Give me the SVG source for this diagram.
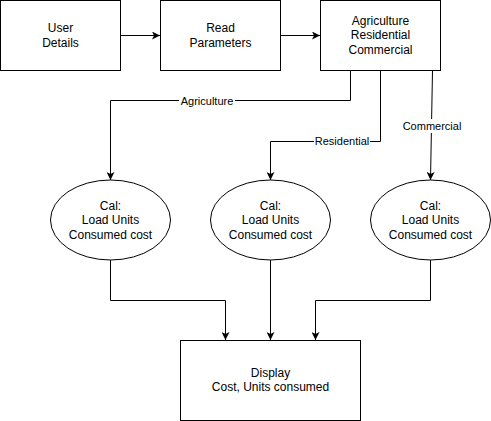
<svg xmlns="http://www.w3.org/2000/svg" width="491" height="421" viewBox="0 0 491 421">
<style>
.n{fill:#fff;stroke:#000;stroke-width:1}
.t{font-family:"Liberation Sans",Arial,sans-serif;font-size:12px;fill:#000;text-anchor:middle}
.l{font-family:"Liberation Sans",Arial,sans-serif;font-size:11px;fill:#000;text-anchor:middle}
.e{fill:none;stroke:#000;stroke-width:1;marker-end:url(#a)}
.lb{fill:#fff}
</style>
<defs>
<marker id="a" viewBox="0 0 10 10" refX="10" refY="5" markerWidth="8" markerHeight="8" markerUnits="userSpaceOnUse" orient="auto">
<path d="M0,0 L10,5 L0,10 L2.5,5 Z" fill="#000"/>
</marker>
</defs>
<rect width="491" height="421" fill="#fff"/>
<g id="connectors">
<path class="e" d="M120.5,35.5 H160"/>
<path class="e" d="M280.5,35.5 H320"/>
<path class="e" d="M350.5,70.5 V100.5 H110.5 V180"/>
<path class="e" d="M380.5,70.5 V141.5 H270.5 V180"/>
<path class="e" d="M432.5,70.5 L430.5,180"/>
<path class="e" d="M110.5,260 V300.5 H225.5 V340"/>
<path class="e" d="M270.5,260 V340"/>
<path class="e" d="M430.5,260 V300.5 H315.5 V340"/>
<rect class="lb" x="179" y="93" width="56" height="14"/>
<text class="l" x="207" y="104.5">Agriculture</text>
<rect class="lb" x="314" y="134" width="56" height="14"/>
<text class="l" x="342" y="145">Residential</text>
<rect class="lb" x="402" y="119" width="60" height="14"/>
<text class="l" x="432" y="130">Commercial</text>
</g>
<g id="user">
<rect class="n" x="0.5" y="0.5" width="120" height="70"/>
<text class="t" x="60.5" y="32">User</text>
<text class="t" x="60.5" y="47">Details</text>
</g>
<g id="read">
<rect class="n" x="160.5" y="0.5" width="120" height="70"/>
<text class="t" x="220.5" y="32">Read</text>
<text class="t" x="220.5" y="47">Parameters</text>
</g>
<g id="types">
<rect class="n" x="320.5" y="0.5" width="120" height="70"/>
<text class="t" x="380.5" y="25">Agriculture</text>
<text class="t" x="380.5" y="39">Residential</text>
<text class="t" x="380.5" y="54">Commercial</text>
</g>
<g id="cal1">
<ellipse class="n" cx="110.5" cy="220" rx="60" ry="40"/>
<text class="t" x="110.5" y="210">Cal:</text>
<text class="t" x="110.5" y="224">Load Units</text>
<text class="t" x="110.5" y="239">Consumed cost</text>
</g>
<g id="cal2">
<ellipse class="n" cx="270.5" cy="220" rx="60" ry="40"/>
<text class="t" x="270.5" y="210">Cal:</text>
<text class="t" x="270.5" y="224">Load Units</text>
<text class="t" x="270.5" y="239">Consumed cost</text>
</g>
<g id="cal3">
<ellipse class="n" cx="430.5" cy="220" rx="60" ry="40"/>
<text class="t" x="430.5" y="210">Cal:</text>
<text class="t" x="430.5" y="224">Load Units</text>
<text class="t" x="430.5" y="239">Consumed cost</text>
</g>
<g id="display">
<rect class="n" x="180.5" y="340.5" width="180" height="80"/>
<text class="t" x="270.5" y="377">Display</text>
<text class="t" x="270.5" y="391">Cost, Units consumed</text>
</g>
</svg>
